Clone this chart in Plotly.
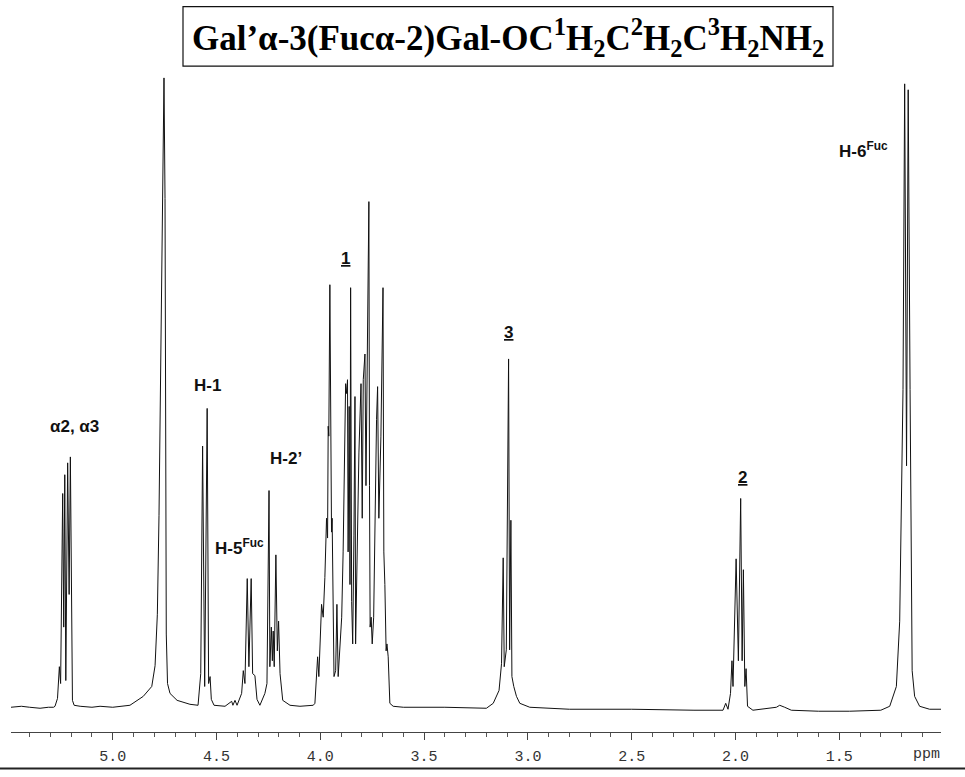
import plotly.graph_objects as go

# ---------------- data (ppm, relative intensity) ----------------
base_left_ppm = [5.490, 5.440, 5.400, 5.350, 5.310, 5.285]
base_left_int = [2, 3, 2, 1, 2, 2]

alpha_ppm = [5.278, 5.266, 5.257, 5.251, 5.241, 5.236, 5.231, 5.226, 5.217, 5.210, 5.204, 5.199, 5.194, 5.186, 5.157, 5.100, 5.061, 5.000, 4.965]
alpha_int = [3, 11, 43, 26, 218, 83, 237, 29, 249, 116, 255, 83, 9, 4, 3, 2, 3, 2, 3]

hdo_ppm = [4.917, 4.853, 4.812, 4.796, 4.785, 4.777, 4.770, 4.763, 4.757, 4.753, 4.748, 4.745, 4.742, 4.736, 4.724, 4.690, 4.628, 4.589]
hdo_int = [4, 13, 23, 44, 96, 196, 316, 466, 596, 638, 516, 266, 76, 26, 16, 9, 5, 4]

h1_ppm = [4.576, 4.567, 4.557, 4.545, 4.538, 4.531, 4.525, 4.512, 4.459]
h1_int = [36, 266, 23, 304, 26, 33, 10, 4, 3]

h5fuc_ppm = [4.427, 4.421, 4.411, 4.401, 4.379, 4.371, 4.363, 4.352, 4.344, 4.333, 4.326, 4.315, 4.305, 4.291]
h5fuc_int = [8, 4, 9, 4, 16, 39, 26, 132, 43, 132, 36, 34, 10, 4]

h2p_ppm = [4.267, 4.257, 4.247, 4.243, 4.236, 4.231, 4.227, 4.222, 4.214, 4.207, 4.201, 4.194, 4.181, 4.146, 4.098, 4.034]
h2p_int = [16, 26, 221, 43, 83, 49, 79, 43, 156, 59, 89, 36, 9, 4, 3, 4]

ring_ppm = [4.026, 4.013, 4.007, 3.994, 3.986, 3.978, 3.970, 3.965, 3.962, 3.959, 3.954, 3.950, 3.946, 3.943,
            3.934, 3.926, 3.920, 3.914, 3.906, 3.897, 3.890, 3.885, 3.878, 3.873, 3.869, 3.866, 3.861, 3.857,
            3.854, 3.849, 3.844, 3.838, 3.833, 3.830, 3.822, 3.814, 3.804, 3.798, 3.793, 3.785, 3.780, 3.774,
            3.769, 3.766, 3.763, 3.760, 3.755, 3.750, 3.743, 3.737, 3.729, 3.724, 3.718, 3.708, 3.698, 3.694,
            3.689, 3.683, 3.679, 3.673, 3.665, 3.649, 3.600, 3.400, 3.200]
ring_int = [6, 53, 33, 106, 93, 133, 193, 173, 286, 276, 429, 273, 179, 193,
            33, 39, 106, 33, 66, 93, 159, 259, 329, 319, 333, 159, 306, 126,
            426, 109, 66, 176, 316, 66, 159, 259, 329, 193, 333, 359, 226, 339,
            426, 513, 226, 83, 93, 66, 93, 193, 293, 326, 193, 276, 426, 159,
            126, 59, 66, 53, 6, 3, 2, 2, 1]

h3_ppm = [3.167, 3.139, 3.127, 3.119, 3.114, 3.104, 3.093, 3.088, 3.082, 3.077, 3.068, 3.055, 3.039, 2.991, 2.800, 2.500, 2.200, 2.080]
h3_int = [6, 19, 46, 153, 43, 60, 354, 60, 191, 33, 23, 13, 6, 2, 0, 0, -1, -1]

h2_ppm = [2.060, 2.047, 2.036, 2.024, 2.017, 2.012, 1.997, 1.986, 1.975, 1.968, 1.962, 1.955, 1.949, 1.942, 1.916,
          1.803, 1.787, 1.763, 1.731, 1.600, 1.450, 1.300]
h2_int = [-1, 6, 0, 16, 49, 23, 152, 49, 213, 49, 141, 23, 41, 3, -1,
          2, 4, 2, -1, -2, -2, -1]

h6fuc_ppm = [1.257, 1.225, 1.209, 1.193, 1.185, 1.176, 1.168, 1.159, 1.149, 1.137, 1.113, 1.065, 1.017, 1.010]
h6fuc_int = [3, 23, 89, 323, 632, 246, 626, 323, 39, 13, 3, 0, 0, 0]

tick_values = [5.0, 4.5, 4.0, 3.5, 3.0, 2.5, 2.0, 1.5]
tick_labels = ["5.0", "4.5", "4.0", "3.5", "3.0", "2.5", "2.0", "1.5"]

peak_labels = ["α2, α3", "H-1", "H-5<sup>Fuc</sup>", "H-2’", "<u>1</u>", "<u>3</u>", "<u>2</u>", "H-6<sup>Fuc</sup>"]
label_ppm = [5.186, 4.5435, 4.387, 4.1655, 3.881, 3.092, 1.9675, 1.382]
label_int = [286, 327, 164, 253, 456, 381, 234, 565]

title_text = ("<b>Gal’α-3(Fucα-2)Gal-OC<sup>1</sup>H<sub>2</sub>C<sup>2</sup>H<sub>2</sub>"
              "C<sup>3</sup>H<sub>2</sub>NH<sub>2</sub></b>")

# ---------------- build figure ----------------
ppm = (base_left_ppm + alpha_ppm + hdo_ppm + h1_ppm + h5fuc_ppm + h2p_ppm + ring_ppm + h3_ppm + h2_ppm + h6fuc_ppm)
inten = (base_left_int + alpha_int + hdo_int + h1_int + h5fuc_int + h2p_int + ring_int + h3_int + h2_int + h6fuc_int)

fig = go.Figure()
fig.add_trace(go.Scatter(x=ppm, y=inten, mode="lines",
                         line=dict(color="#111111", width=1), hoverinfo="skip", showlegend=False))

L, R, T, B = 11, 24, 70, 38
W, H = 965, 777
pw, ph = W - L - R, H - T - B

def px_x(px):
    return (px - L) / pw

def px_y(py):
    return (H - B - py) / ph

annotations = []
for txt, xv, yv in zip(peak_labels, label_ppm, label_int):
    annotations.append(dict(x=xv, y=yv, xref="x", yref="y", text="<b>" + txt + "</b>",
                            showarrow=False, xanchor="center", yanchor="middle",
                            font=dict(family="Liberation Sans, Arial, sans-serif", size=17, color="#111111")))

annotations.append(dict(x=px_x(508), y=px_y(37), xref="paper", yref="paper", text=title_text,
                        showarrow=False, xanchor="center", yanchor="middle",
                        font=dict(family="Liberation Serif, Times New Roman, serif", size=35, color="#000000")))

annotations.append(dict(x=1.079, y=px_y(762), xref="x", yref="paper", text="ppm", showarrow=False,
                        xanchor="center", yanchor="middle",
                        font=dict(family="Liberation Mono, Courier New, monospace", size=15, color="#333333")))

shapes = [
    dict(type="rect", xref="paper", yref="paper", x0=px_x(183), x1=px_x(833), y0=px_y(66), y1=px_y(6),
         line=dict(color="#111111", width=1.2), fillcolor="rgba(0,0,0,0)"),
    dict(type="line", xref="paper", yref="paper", x0=px_x(0), x1=px_x(965), y0=px_y(776), y1=px_y(776),
         line=dict(color="#222222", width=2)),
]

fig.update_layout(
    width=W, height=H, autosize=False,
    margin=dict(l=L, r=R, t=T, b=B),
    paper_bgcolor="white", plot_bgcolor="white",
    annotations=annotations, shapes=shapes,
    xaxis=dict(range=[5.49, 1.01], showgrid=False, zeroline=False,
               showline=True, linecolor="#444444", linewidth=1,
               tickmode="array", tickvals=tick_values, ticktext=tick_labels,
               ticks="outside", ticklen=7, tickwidth=1, tickcolor="#444444",
               ticklabelstandoff=3,
               tickfont=dict(family="Liberation Mono, Courier New, monospace", size=15, color="#333333"),
               minor=dict(dtick=0.1, tick0=0, ticks="outside", ticklen=4, tickcolor="#555555", tickwidth=1)),
    yaxis=dict(range=[-23, 646], visible=False, showgrid=False, zeroline=False),
)

fig.write_html("out.html", config={"displayModeBar": False},
               post_script="document.body.style.margin='0';")
